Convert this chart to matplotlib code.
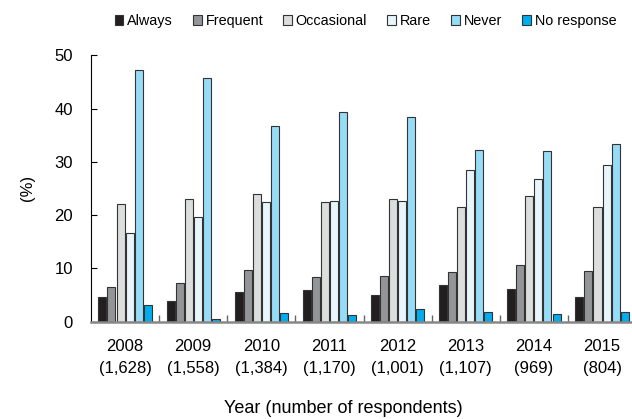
import matplotlib
matplotlib.use("Agg")
import matplotlib.pyplot as plt
import numpy as np

years = ["2008", "2009", "2010", "2011", "2012", "2013", "2014", "2015"]
respondents = ["1,628", "1,558", "1,384", "1,170", "1,001", "1,107", "969", "804"]
categories = ["Always", "Frequent", "Occasional", "Rare", "Never", "No response"]

always = [4.6, 3.9, 5.6, 5.9, 5.1, 6.9, 6.1, 4.6]
frequent = [6.6, 7.2, 9.7, 8.4, 8.6, 9.3, 10.6, 9.5]
occasional = [22.0, 23.1, 24.0, 22.5, 23.1, 21.5, 23.5, 21.5]
rare = [16.6, 19.6, 22.4, 22.6, 22.6, 28.4, 26.7, 29.4]
never = [47.3, 45.8, 36.8, 39.3, 38.5, 32.2, 32.0, 33.4]
no_response = [3.1, 0.45, 1.6, 1.2, 2.3, 1.9, 1.4, 1.8]

series = [always, frequent, occasional, rare, never, no_response]
colors = ["#231f20", "#939598", "#dcdddd", "#e8f6fc", "#97dcf7", "#00aeef"]

plt.rcParams['font.family'] = ['Liberation Sans', 'DejaVu Sans']

fig = plt.figure(figsize=(6.32, 4.19), dpi=100)
ax = fig.add_axes([91/632, 1 - 321.7/419, 1 - 91/632, (321.7 - 55.3)/419])

x = np.arange(len(years))
pitch = 0.133
width = 0.118
for i, (vals, c, name) in enumerate(zip(series, colors, categories)):
    ax.bar(x + (i - 2.5) * pitch, vals, width=width, color=c, edgecolor="#333333",
           linewidth=0.8, label=name, zorder=3)

ax.set_xlim(-0.5, 7.44)
ax.set_ylim(0, 50)
ax.set_yticks([0, 10, 20, 30, 40, 50])
ax.tick_params(axis='y', direction='in', length=4.3, width=0.8, labelsize=12, pad=13)
ax.set_xticks(x)
ax.set_xticklabels([f"{y}\n({r})" for y, r in zip(years, respondents)], fontsize=12, linespacing=1.55)
ax.tick_params(axis='x', which='major', length=0, pad=12.5)
ax.set_xticks(np.arange(0.5, 7.5, 1.0), minor=True)
ax.tick_params(axis='x', which='minor', direction='in', length=5, width=1.0, color='#666666')

for s in ['top', 'right']:
    ax.spines[s].set_visible(False)
ax.spines['left'].set_linewidth(0.8)
ax.spines['bottom'].set_color('#888888')
ax.spines['bottom'].set_linewidth(1.8)
ax.spines['bottom'].set_zorder(4)

fig.text(27/632, 1 - 188/419, "(%)", rotation=90, ha='center', va='center', fontsize=12)
fig.text(343.5/632, 1 - 413/419, "Year (number of respondents)", ha='center', va='baseline', fontsize=13)

handles, labels = ax.get_legend_handles_labels()
leg = fig.legend(handles, labels, ncol=6, loc='center', bbox_to_anchor=(365.4/632, 1 - 21/419),
                 frameon=False, fontsize=10.4, handlelength=0.62, handleheight=0.62,
                 handletextpad=0.25, columnspacing=1.39, borderaxespad=0)

fig.savefig("out.png", dpi=100)
